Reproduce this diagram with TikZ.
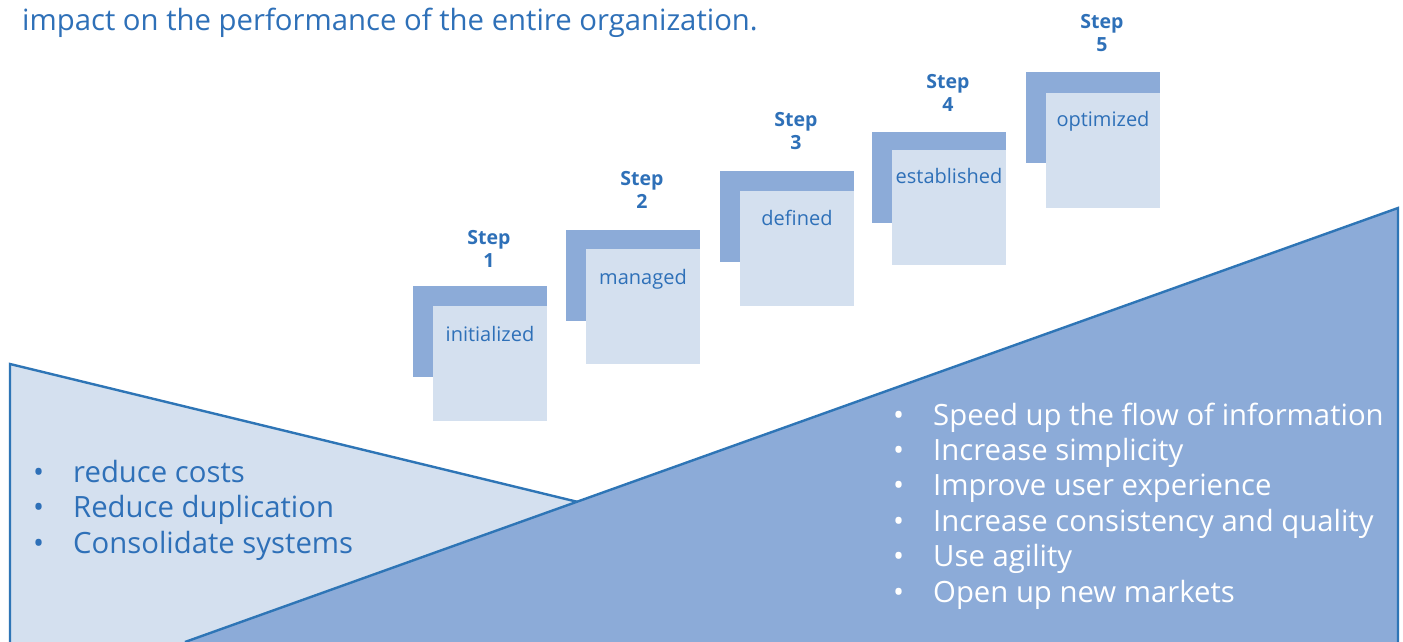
\documentclass[tikz,border=0pt]{standalone}
\usepackage{fontspec}
\setmainfont{Open Sans}
\definecolor{darkfill}{HTML}{8CABD8}
\definecolor{lightfill}{HTML}{D4E0EF}
\definecolor{txtblue}{HTML}{2E70B8}
\definecolor{edgeblue}{HTML}{2E75B6}
\tikzset{
  edge/.style={draw=edgeblue, line width=2.4pt, line join=miter},
  backsq/.style={fill=darkfill, draw=none},
  frontsq/.style={fill=lightfill, draw=none},
  steplabel/.style={text=txtblue, font=\fontsize{19.5}{23.5}\selectfont\bfseries, align=center, inner sep=0pt},
  steptext/.style={text=txtblue, font=\fontsize{20}{24}\selectfont, inner sep=0pt, anchor=base},
  bulletline/.style={font=\fontsize{29.3}{35}\selectfont, inner sep=0pt, anchor=base west},
  headline/.style={text=txtblue, font=\fontsize{29.3}{34}\selectfont, inner sep=0pt, anchor=base west}
}
\newcommand{\bul}{\makebox[41pt][l]{\hspace{1pt}•}}
\begin{document}
\begin{tikzpicture}[x=1pt,y=-1pt]
\useasboundingbox (0,0) rectangle (1403,642);
\fill[white] (0,0) rectangle (1403,642);

% headline
\node[headline] (head) at (22,31) {impact on the performance of the entire organization.};

% left (light) triangle
\fill[lightfill] (10,364) -- (578,502) -- (185,642) -- (10,642) -- cycle;
\draw[edge] (10,645) -- (10,364) -- (578,502);

% right (dark) shape
\fill[darkfill] (185,642) -- (1398,208) -- (1398,642) -- cycle;
\draw[edge] (185,642) -- (1398,208) -- (1398,645);

% steps
\foreach \i/\L/\T/\F/\Y/\S/\txt in {1/413/286/20/55/37/initialized, 2/566/230/19/54/40/managed, 3/720/171/20/54/40/defined, 4/872/132/18/51/39/established, 5/1026/72/21/54/39/optimized}{
  \path[backsq] (\L,\T) rectangle ++(134,91);
  \path[frontsq] (\L+20,\T+\F) rectangle ++(114,115);
  \node[steptext] (txt\i) at (\L+77,\T+\Y) {\txt};
  \node[steplabel] (lab\i) at (\L+76,\T-\S) {Step\\\i};
}

% left bullets
\node[bulletline, text=txtblue] (l1) at (32,482) {\bul reduce costs};
\node[bulletline, text=txtblue] (l2) at (32,517.5) {\bul Reduce duplication};
\node[bulletline, text=txtblue] (l3) at (32,553) {\bul Consolidate systems};

% right bullets
\node[bulletline, text=white] (r1) at (892,425) {\bul Speed up the flow of information};
\node[bulletline, text=white] (r2) at (892,460.4) {\bul Increase simplicity};
\node[bulletline, text=white] (r3) at (892,495.8) {\bul Improve user experience};
\node[bulletline, text=white] (r4) at (892,531.2) {\bul Increase consistency and quality};
\node[bulletline, text=white] (r5) at (892,566.6) {\bul Use agility};
\node[bulletline, text=white] (r6) at (892,602) {\bul Open up new markets};
\end{tikzpicture}
\end{document}
